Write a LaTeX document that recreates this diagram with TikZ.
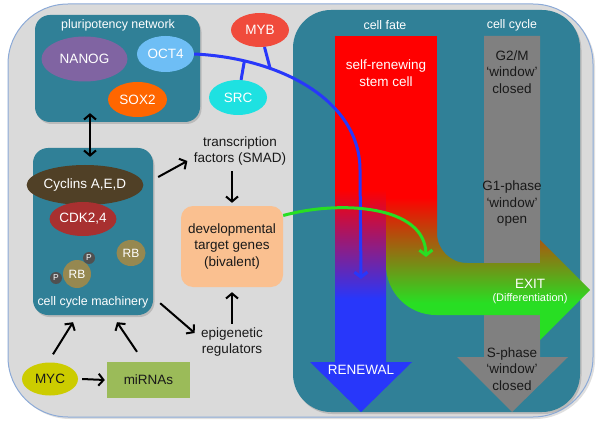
\documentclass[tikz,border=0pt]{standalone}
\usepackage{fontspec}
\setmainfont{Liberation Sans}
\usetikzlibrary{arrows.meta,shapes.geometric,shadows}
\definecolor{teal1}{RGB}{48,128,151}
\definecolor{bggray}{RGB}{218,218,218}
\definecolor{bgborder}{RGB}{140,170,215}
\definecolor{nanogc}{RGB}{128,100,162}
\definecolor{oct4c}{RGB}{110,190,245}
\definecolor{sox2c}{RGB}{255,102,0}
\definecolor{mybc}{RGB}{240,75,60}
\definecolor{srcc}{RGB}{30,225,225}
\definecolor{cyclinc}{RGB}{80,64,38}
\definecolor{cdkc}{RGB}{168,48,48}
\definecolor{rbc}{RGB}{150,136,80}
\definecolor{pc}{RGB}{80,80,80}
\definecolor{devc}{RGB}{250,192,144}
\definecolor{mycc}{RGB}{204,204,0}
\definecolor{mirc}{RGB}{155,187,89}
\definecolor{blueA}{RGB}{40,55,250}
\definecolor{greenA}{RGB}{40,222,35}
\definecolor{grayA}{RGB}{128,128,128}
\definecolor{txtdark}{RGB}{25,25,25}
\pgfdeclareverticalshading{renewsh}{100bp}{color(0bp)=(blueA); color(50bp)=(blueA); color(74bp)=(red); color(100bp)=(red)}
\pgfdeclareverticalshading{exitsh}{100bp}{color(0bp)=(greenA); color(37bp)=(greenA); color(71bp)=(red); color(100bp)=(red)}
\begin{document}
\begin{tikzpicture}[x=1pt,y=-1pt,
  fbig/.style={font=\fontsize{13.5}{16.5}\selectfont},
  ftitle/.style={font=\fontsize{12.4}{15}\selectfont},
  panel/.style={rectangle, rounded corners=15pt, fill=teal1, drop shadow={opacity=.35, shadow xshift=1.5pt, shadow yshift=-2pt}},
  ell/.style={ellipse, inner sep=0pt, text=white, fbig},
  arr/.style={line width=2pt, -{Straight Barb[length=5pt,width=12pt]}},
  darr/.style={line width=2pt, {Straight Barb[length=5pt,width=12pt]}-{Straight Barb[length=5pt,width=12pt]}},
  lbl/.style={align=center, fbig, text=txtdark},
  wlbl/.style={align=center, fbig, text=white},
]
\useasboundingbox (0,0) rectangle (601,430);
% outer box
\node[rectangle, rounded corners=60pt, fill=bggray, draw=bgborder, line width=1pt,
  minimum width=585pt, minimum height=413pt,
  drop shadow={opacity=.25, shadow xshift=2pt, shadow yshift=-2pt}] (outer) at (300.5,210.5) {};
% right panel
\node[panel, rounded corners=38pt, minimum width=287pt, minimum height=402pt] (rpanel) at (436.5,211) {};
% left panels
\node[panel, minimum width=165pt, minimum height=107pt] (pluri) at (117.5,68.5) {};
\node[panel, minimum width=120pt, minimum height=167pt] (cyc) at (93,231.5) {};
\node[ftitle, text=white] (pluritxt) at (118,25) {pluripotency network};
\node[ftitle, text=white] (cyctxt) at (93,302) {cell cycle machinery};

% bars
\fill[red] (335,36) rectangle (437,192);
\shade[shading=renewsh] (335,185) -- (386,185) -- (386,362) -- (412,362) -- (361,412) -- (310,362) -- (335,362) -- cycle;
\fill[grayA] (484,36) -- (540,36) -- (540,357) -- (568,357) -- (512,412) -- (457,357) -- (484,357) -- cycle;
\shade[shading=exitsh] (386,185) -- (386,265) .. controls (386,292.6) and (408.4,315) .. (436,315)
  -- (540,315) -- (540,340) -- (590,290) -- (540,240) -- (540,263) -- (467,263)
  .. controls (450.4,263) and (437,249.6) .. (437,233) -- (437,185) -- cycle;

% right panel texts
\node[ftitle, text=white] (fatetxt) at (385,25) {cell fate};
\node[ftitle, text=white] (cycletxt) at (512,25) {cell cycle};
\node[wlbl, font=\fontsize{13.5}{17}\selectfont] (stem) at (386,73) {self-renewing\\stem cell};
\node[lbl] (g2m) at (512,72) {G2/M\\‘window’\\closed};
\node[lbl] (g1) at (512,204) {G1-phase\\‘window’\\open};
\node[lbl] (sph) at (512,369) {S-phase\\‘window’\\closed};
\node[wlbl] (exit) at (530,284) {EXIT};
\node[text=white, font=\fontsize{11}{13}\selectfont] (diff) at (530,299) {(Differentiation)};
\node[wlbl] (renew) at (361,370) {RENEWAL};

% ellipses
\node[ell, fill=nanogc, minimum width=86pt, minimum height=45pt] (nanog) at (84.5,59) {NANOG};
\node[ell, fill=oct4c, minimum width=57pt, minimum height=36pt] (oct4) at (165.5,54) {OCT4};
\node[ell, fill=sox2c, minimum width=59pt, minimum height=35pt] (sox2) at (137.5,99.5) {SOX2};
\node[ell, fill=mybc, minimum width=58pt, minimum height=34pt] (myb) at (260,30) {MYB};
\node[ell, fill=srcc, minimum width=58pt, minimum height=35pt] (src) at (238,97.5) {SRC};
\node[ell, fill=cyclinc, minimum width=95pt, minimum height=40pt] (cyclin) at (85,185) {Cyclins A,E,D};
\node[ell, fill=cdkc, minimum width=54pt, minimum height=34pt] (cdk) at (83,219) {CDK2,4};
\node[ell, fill=rbc, minimum width=29pt, minimum height=26pt, font=\fontsize{12}{14}\selectfont] (rb1) at (131,253) {RB};
\node[ell, fill=rbc, minimum width=28pt, minimum height=28pt, font=\fontsize{12}{14}\selectfont] (rb2) at (77,274) {RB};
\node[ell, fill=pc, minimum width=12pt, minimum height=12pt, font=\fontsize{8.5}{10}\selectfont] (p1) at (89,258) {P};
\node[ell, fill=pc, minimum width=12pt, minimum height=12pt, font=\fontsize{8.5}{10}\selectfont] (p2) at (56,278) {P};

% middle nodes
\node[lbl] (tf) at (240,151) {transcription\\factors (SMAD)};
\node[lbl, rectangle, rounded corners=12pt, fill=devc, minimum width=102pt, minimum height=81pt] (dev) at (232,246.5) {developmental\\target genes\\(bivalent)};
\node[lbl] (epi) at (232,342) {epigenetic\\regulators};
\node[ellipse, fill=mycc, inner sep=0pt, minimum width=56pt, minimum height=33pt, fbig, text=txtdark] (myc) at (50,379) {MYC};
\node[rectangle, fill=mirc, minimum width=83pt, minimum height=36pt, fbig, text=txtdark] (mir) at (148.5,380) {miRNAs};

% black arrows
\draw[darr] ([xshift=-27.5pt,yshift=9pt]pluri.south) -- ([xshift=-3pt,yshift=-9pt]cyc.north);
\draw[arr] ([xshift=5pt,yshift=54.5pt]cyc.east) -- ([xshift=-3pt,yshift=-10pt]tf.west);
\draw[arr] ([xshift=-8pt,yshift=-2pt]tf.south) -- ([xshift=0pt,yshift=3pt]dev.north);
\draw[arr] (epi.north) -- ([yshift=-5pt]dev.south);
\draw[arr] ([xshift=7pt,yshift=12pt]cyc.south east) -- ([xshift=-3pt,yshift=9pt]epi.west);
\draw[arr] ([xshift=3pt,yshift=8pt]myc.north) -- ([xshift=-20pt,yshift=-7pt]cyc.south);
\draw[arr] ([xshift=-11.5pt,yshift=10pt]mir.north) -- ([xshift=24pt,yshift=-7pt]cyc.south);
\draw[arr] ([xshift=4pt]myc.east) -- ([xshift=-2pt]mir.west);

% blue curve
\coordinate (bluetip) at (361,279);
\draw[blueA, line width=3pt, -{Straight Barb[length=5pt,width=13pt]}] (oct4.east) .. controls (280,58) and (360,100) .. (360,170)
  coordinate[pos=.2] (bsrc) coordinate[pos=.31] (bmyb) -- (bluetip);
\draw[blueA, line width=3pt] (myb) -- (bmyb);
\draw[blueA, line width=3pt] (src) -- (bsrc);

% green curve
\coordinate (greentip) at (426,257);
\draw[greenA, line width=3pt, -{Straight Barb[length=5pt,width=13pt]}] ([yshift=31pt]dev.east) .. controls (340,200) and (425,205) .. (greentip);
\end{tikzpicture}
\end{document}
